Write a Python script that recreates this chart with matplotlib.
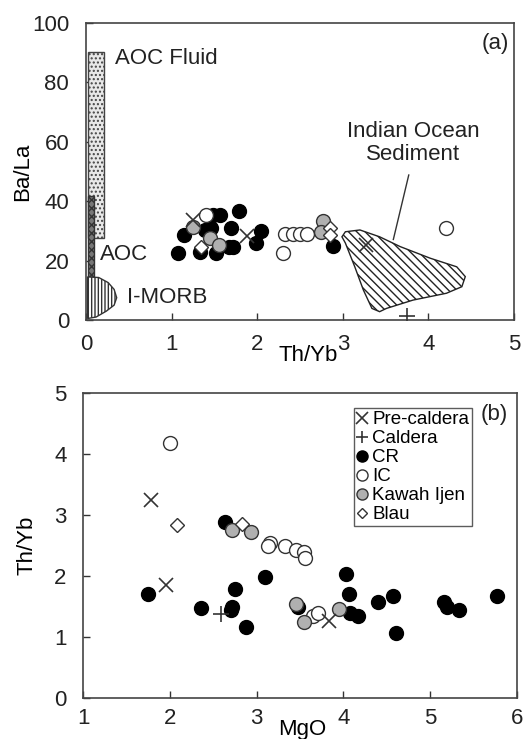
import numpy as np
import matplotlib
matplotlib.use("Agg")
import matplotlib.pyplot as plt
from matplotlib.patches import Polygon, Rectangle

plt.rcParams['font.family'] = ['Liberation Sans', 'DejaVu Sans']
plt.rcParams['hatch.linewidth'] = 1.0

# ---- panel (a): Th/Yb vs Ba/La ----
a_pre_x = [1.25, 1.88, 3.27]
a_pre_y = [33.6, 28.3, 25.2]
a_cal_x = [3.75]
a_cal_y = [1.3]
a_cr_x = [1.08, 1.15, 1.33, 1.39, 1.46, 1.52, 1.57, 1.49, 1.67, 1.72, 1.70, 1.79, 1.99, 2.05, 2.89]
a_cr_y = [22.6, 28.5, 23.0, 30.3, 30.8, 22.6, 35.3, 35.3, 24.4, 24.4, 30.9, 36.8, 26.0, 30.0, 24.9]
a_ic_x = [1.40, 2.30, 2.33, 2.42, 2.50, 2.58, 4.21]
a_ic_y = [35.3, 22.4, 29.1, 29.1, 29.1, 29.1, 30.8]
a_kij_x = [1.25, 1.45, 1.55, 2.77, 2.74]
a_kij_y = [31.4, 27.5, 25.2, 33.4, 29.7]
a_blau_x = [1.35, 2.85, 2.85]
a_blau_y = [24.7, 30.8, 28.6]

sed_x = [2.99, 3.03, 3.20, 3.43, 3.67, 4.02, 4.33, 4.43, 4.39, 4.21, 3.82, 3.51, 3.43, 3.34, 3.24, 3.14, 3.03]
sed_y = [28.0, 29.7, 30.3, 28.0, 24.7, 20.8, 17.9, 14.6, 11.2, 9.0, 6.7, 3.9, 2.8, 3.9, 10.1, 17.9, 25.9]

morb_x = [0.02, 0.15, 0.26, 0.33, 0.36, 0.33, 0.24, 0.12, 0.02]
morb_y = [14.5, 14.3, 12.6, 10.3, 7.5, 5.0, 3.0, 1.0, 0.5]

# ---- panel (b): MgO vs Th/Yb ----
b_pre_x = [1.78, 1.95, 3.84]
b_pre_y = [3.25, 1.86, 1.27]
b_cal_x = [2.59]
b_cal_y = [1.38]
b_cr_x = [1.75, 2.36, 2.64, 2.70, 2.72, 2.75, 2.88, 3.10, 3.48, 4.03, 4.07, 4.08, 4.17, 4.40, 4.57, 4.61, 5.16, 5.20, 5.33, 5.77]
b_cr_y = [1.70, 1.48, 2.88, 1.45, 1.50, 1.79, 1.16, 1.98, 1.50, 2.03, 1.70, 1.39, 1.34, 1.57, 1.67, 1.07, 1.57, 1.50, 1.44, 1.68]
b_ic_x = [2.00, 3.16, 3.13, 3.33, 3.45, 3.55, 3.56, 3.65, 3.71]
b_ic_y = [4.18, 2.55, 2.49, 2.49, 2.42, 2.40, 2.30, 1.34, 1.39]
b_kij_x = [2.72, 2.93, 3.45, 3.55, 3.95]
b_kij_y = [2.76, 2.72, 1.54, 1.24, 1.46]
b_blau_x = [2.08, 2.83]
b_blau_y = [2.84, 2.86]


def draw_points(ax, pre, cal, cr, ic, kij, blau, label=False):
    ms = 10
    ax.plot(*cr, 'o', ms=ms, mfc='black', mec='black', mew=1, ls='none', label='CR' if label else None, zorder=4)
    ax.plot(*ic, 'o', ms=ms, mfc='white', mec='#333333', mew=1, ls='none', label='IC' if label else None, zorder=4)
    ax.plot(*kij, 'o', ms=ms, mfc='#b0b0b0', mec='#333333', mew=1, ls='none', label='Kawah Ijen' if label else None, zorder=4)
    ax.plot(*blau, 'D', ms=7, mfc='white', mec='#333333', mew=1, ls='none', label='Blau' if label else None, zorder=4)
    ax.plot(*pre, 'x', ms=10, mec='#333333', mew=1.2, ls='none', label='Pre-caldera' if label else None, zorder=5)
    ax.plot(*cal, '+', ms=11, mec='#333333', mew=1.2, ls='none', label='Caldera' if label else None, zorder=5)


fig = plt.figure(figsize=(5.30, 7.39), dpi=100)
fs = 16

# panel a
ax1 = fig.add_axes([0.162, 0.567, 0.808, 0.402])
ax1.add_patch(Rectangle((0.03, 27.5), 0.18, 62.7, facecolor='#e8e8e8', edgecolor='#444444',
                        hatch='....', lw=1, zorder=2))
ax1.add_patch(Rectangle((0.03, 13.5), 0.07, 28.2, facecolor='#777777', edgecolor='#333333',
                        hatch='xxxx', lw=1, zorder=3))
ax1.add_patch(Polygon(np.column_stack([morb_x, morb_y]), closed=True, facecolor='white',
                      edgecolor='#333333', hatch='|||||', lw=1, zorder=3))
ax1.add_patch(Polygon(np.column_stack([sed_x, sed_y]), closed=True, facecolor='white',
                      edgecolor='#222222', hatch='\\\\\\\\', lw=1, zorder=2))
draw_points(ax1, (a_pre_x, a_pre_y), (a_cal_x, a_cal_y), (a_cr_x, a_cr_y),
            (a_ic_x, a_ic_y), (a_kij_x, a_kij_y), (a_blau_x, a_blau_y))
ax1.plot([3.77, 3.59], [48.8, 27.1], color='#333333', lw=1, zorder=3)

ax1.text(0.34, 88, 'AOC Fluid', fontsize=fs, va='center', color='#222222')
ax1.text(0.16, 21.9, 'AOC', fontsize=fs, va='center', color='#222222')
ax1.text(0.48, 7.5, 'I-MORB', fontsize=fs, va='center', color='#222222')
ax1.text(3.82, 59.5, 'Indian Ocean\nSediment', fontsize=fs, ha='center', va='center',
         linespacing=1.1, color='#222222')
ax1.text(4.94, 93, '(a)', fontsize=fs, ha='right', va='center', color='#222222')

ax1.set_xlim(0, 5)
ax1.set_ylim(0, 100)
ax1.set_xticks([0, 1, 2, 3, 4, 5])
ax1.set_yticks([0, 20, 40, 60, 80, 100])
ax1.set_ylabel('Ba/La', fontsize=fs)
ax1.set_xlabel('Th/Yb', fontsize=fs)
ax1.yaxis.set_label_coords(-0.124, 0.5)
ax1.xaxis.set_label_coords(0.52, -0.084)

# panel b
ax2 = fig.add_axes([0.157, 0.0555, 0.818, 0.4125])
draw_points(ax2, (b_pre_x, b_pre_y), (b_cal_x, b_cal_y), (b_cr_x, b_cr_y),
            (b_ic_x, b_ic_y), (b_kij_x, b_kij_y), (b_blau_x, b_blau_y), label=True)
ax2.set_xlim(1, 6)
ax2.set_ylim(0, 5)
ax2.set_xticks([1, 2, 3, 4, 5, 6])
ax2.set_yticks([0, 1, 2, 3, 4, 5])
ax2.set_ylabel('Th/Yb', fontsize=fs)
ax2.set_xlabel('MgO', fontsize=fs)
ax2.yaxis.set_label_coords(-0.106, 0.5)
ax2.xaxis.set_label_coords(0.505, -0.068)
ax2.text(5.9, 4.65, '(b)', fontsize=fs, ha='right', va='center', color='#222222')

handles, labels = ax2.get_legend_handles_labels()
order = ['Pre-caldera', 'Caldera', 'CR', 'IC', 'Kawah Ijen', 'Blau']
hl = {l: h for h, l in zip(handles, labels)}
leg = ax2.legend([hl[k] for k in order], order, loc='upper left', bbox_to_anchor=(0.624, 0.95),
                 fontsize=13.5, frameon=True, fancybox=False, handlelength=0.6, handletextpad=0.25,
                 borderpad=0.15, labelspacing=0.1, borderaxespad=0, markerscale=0.8)
leg.get_frame().set_edgecolor('#333333')
leg.get_frame().set_linewidth(1)

for ax, xpad in ((ax1, 10), (ax2, 7)):
    ax.tick_params(direction='in', labelsize=fs, length=5, width=1, colors='#333333',
                   labelcolor='#222222')
    ax.tick_params(axis='x', pad=xpad)
    ax.tick_params(axis='y', pad=12)
    for s in ax.spines.values():
        s.set_color('#444444')
        s.set_linewidth(1.2)

fig.savefig('out.png', dpi=100)
